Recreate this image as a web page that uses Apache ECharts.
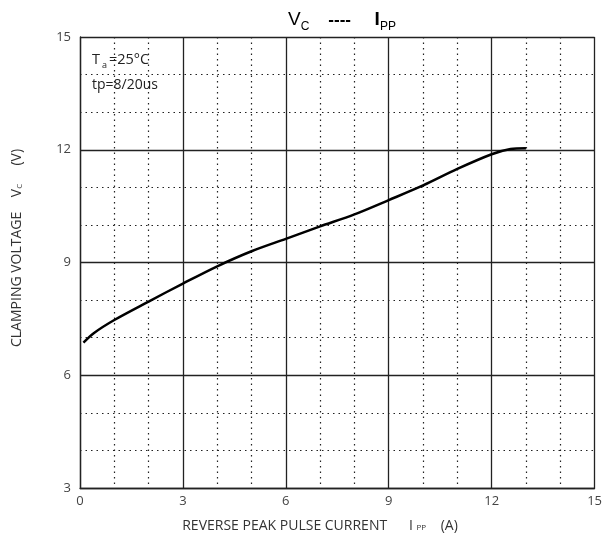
<!DOCTYPE html>
<html>
<head>
<meta charset="utf-8">
<script src="https://cdn.jsdelivr.net/npm/echarts@6/dist/echarts.min.js"></script>
<style>
html,body{margin:0;padding:0;background:#fff;}
#c{width:605px;height:541px;}
</style>
</head>
<body>
<div id="c"></div>
<script>
// Data
const currentA = [0.1, 0.4, 1.0, 2.0, 3.0, 4.0, 5.0, 6.0, 7.0, 8.0, 9.0, 10.0, 11.0, 12.0, 12.55, 13.0];
const clampV   = [6.87, 7.12, 7.47, 7.96, 8.44, 8.9, 9.3, 9.63, 9.96, 10.28, 10.66, 11.05, 11.49, 11.88, 12.02, 12.04];
const xTicks = [0, 3, 6, 9, 12, 15];
const yTicks = [3, 6, 9, 12, 15];

const font = 'Open Sans';
const chart = echarts.init(document.getElementById('c'), null, {renderer: 'canvas'});
chart.setOption({
  animation: false,
  backgroundColor: '#fff',
  grid: {left: 80, right: 10, top: 37, bottom: 53, show: false},
  xAxis: {
    type: 'value', min: 0, max: 15, interval: 3,
    axisLine: {show: true, onZero: false, lineStyle: {color: '#222', width: 1.3}},
    axisTick: {show: false},
    axisLabel: {margin: 7, fontFamily: font, fontSize: 13, color: '#444',
      formatter: v => xTicks.includes(v) ? String(v) : ''},
    splitLine: {show: true, lineStyle: {color: '#222', width: 1.3}},
    minorTick: {show: false, splitNumber: 3},
    minorSplitLine: {show: true, lineStyle: {color: '#222', width: 1.2, type: [1.5, 4]}}
  },
  yAxis: {
    type: 'value', min: 3, max: 15, interval: 3,
    axisLine: {show: true, onZero: false, lineStyle: {color: '#222', width: 1.3}},
    axisTick: {show: false},
    axisLabel: {margin: 9, fontFamily: font, fontSize: 13, color: '#444',
      formatter: v => yTicks.includes(v) ? String(v) : ''},
    splitLine: {show: true, lineStyle: {color: '#222', width: 1.3}},
    minorTick: {show: false, splitNumber: 3},
    minorSplitLine: {show: true, lineStyle: {color: '#222', width: 1.2, type: [1.5, 4]}}
  },
  graphic: [
    // title
    {type: 'text', x: 342, y: 20, style: {
      text: '{v|V}{s|C}{d|    ----     }{i|I}{s|PP}',
      align: 'center', verticalAlign: 'middle',
      rich: {
        v: {fontFamily: 'Liberation Sans', fontSize: 19, fill: '#000'},
        s: {fontFamily: 'Liberation Sans', fontSize: 12, fill: '#000', padding: [14, 0, 0, 0]},
        d: {fontFamily: 'Liberation Sans', fontSize: 17, fontWeight: 'bold', fill: '#000'},
        i: {fontFamily: 'Liberation Sans', fontSize: 19, fontWeight: 'bold', fill: '#000'}
      }
    }},
    // annotation
    {type: 'text', left: 92, top: 52, style: {
      text: '{t|T}{s|a}{t|=25°C}',
      rich: {t: {fontFamily: font, fontSize: 14.5, fill: '#222'},
             s: {fontFamily: font, fontSize: 9, fill: '#222', padding: [11, 2, 0, 2]}}
    }},
    {type: 'text', left: 92, top: 78, style: {
      text: 'tp=8/20us', fontFamily: font, fontSize: 14, fill: '#222'
    }},
    // x axis name
    {type: 'text', x: 320, y: 526, style: {
      text: '{t|REVERSE PEAK PULSE CURRENT      I }{s|PP}{t|    (A)}',
      align: 'center', verticalAlign: 'middle',
      rich: {t: {fontFamily: font, fontSize: 14, fill: '#333'},
             s: {fontFamily: font, fontSize: 8, fill: '#333', padding: [4, 0, 0, 0]}}
    }},
    // y axis name
    {type: 'text', x: 17, y: 248, rotation: Math.PI / 2, style: {
      text: '{t|CLAMPING VOLTAGE    V}{s|C}{t|     (V)}',
      align: 'center', verticalAlign: 'middle',
      rich: {t: {fontFamily: font, fontSize: 14, fill: '#333'},
             s: {fontFamily: font, fontSize: 8, fill: '#333', padding: [5, 0, 0, 0]}}
    }}
  ],
  series: [{
    type: 'line',
    data: currentA.map((x, i) => [x, clampV[i]]),
    smooth: 0.3,
    showSymbol: false,
    lineStyle: {color: '#000', width: 2.5}
  }]
});
</script>
</body>
</html>
